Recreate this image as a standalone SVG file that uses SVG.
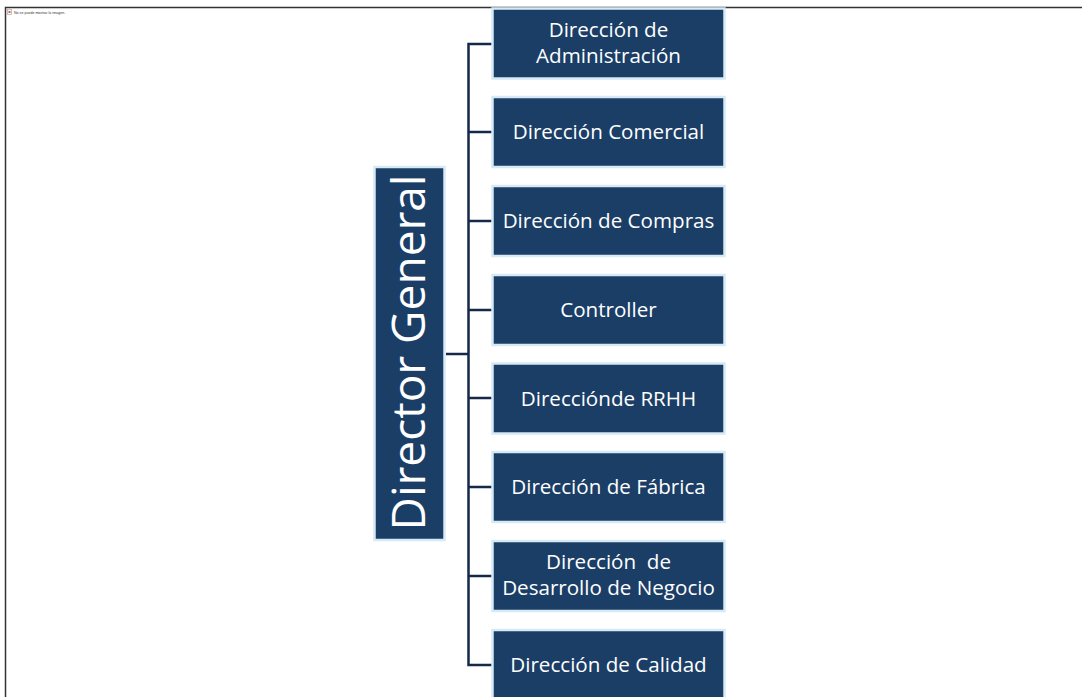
<svg xmlns="http://www.w3.org/2000/svg" width="1083" height="697" viewBox="0 0 1083 697">
<style>
.box{fill:#1b3e67;stroke:#d6eaf5;stroke-width:2.5}
.t{fill:#ffffff;font-family:"Open Sans","Liberation Sans",sans-serif;font-size:20.6px;text-anchor:middle}
.c{fill:none;stroke:#15294a;stroke-width:2.5}
.frame{stroke:#333333;stroke-width:1.5;fill:none}
</style>
<rect width="1083" height="697" fill="#ffffff"/>
<path class="frame" d="M5.5,697 V7.5 H1082"/>
<g id="broken-image">
<rect x="7.5" y="9.5" width="4" height="5" fill="#ffffff" stroke="#999" stroke-width="0.6"/>
<rect x="8.5" y="11" width="2" height="2" fill="#e05050"/>
<text x="14" y="13.5" font-family="Liberation Sans, sans-serif" font-size="3.6" fill="#333">No se puede mostrar la imagen.</text>
</g>
<g id="connectors">
<path class="c" d="M446,354 H468.5"/>
<path class="c" d="M492,44 H468.5 V665 H492"/>
<path class="c" d="M468.5,132 H492 M468.5,221 H492 M468.5,310 H492 M468.5,398 H492 M468.5,487 H492 M468.5,576 H492"/>
</g>
<g id="director-general">
<rect class="box" x="374.5" y="167" width="70" height="373"/>
<text transform="translate(425,352.5) rotate(-90)" font-family="Open Sans, Liberation Sans, sans-serif" font-size="46" fill="#ffffff" text-anchor="middle" textLength="356" lengthAdjust="spacingAndGlyphs">Director General</text>
</g>
<g id="n1"><rect class="box" x="492.5" y="8.5" width="232" height="70"/><text class="t" x="608.5" y="37">Dirección de</text><text class="t" x="608.5" y="63">Administración</text></g>
<g id="n2"><rect class="box" x="492.5" y="97" width="232" height="70"/><text class="t" x="608.5" y="139">Dirección Comercial</text></g>
<g id="n3"><rect class="box" x="492.5" y="186" width="232" height="70"/><text class="t" x="608.5" y="228">Dirección de Compras</text></g>
<g id="n4"><rect class="box" x="492.5" y="275" width="232" height="70"/><text class="t" x="608.5" y="317">Controller</text></g>
<g id="n5"><rect class="box" x="492.5" y="363.5" width="232" height="70"/><text class="t" x="608.5" y="405.5">Direcciónde RRHH</text></g>
<g id="n6"><rect class="box" x="492.5" y="452" width="232" height="70"/><text class="t" x="608.5" y="494">Dirección de Fábrica</text></g>
<g id="n7"><rect class="box" x="492.5" y="541" width="232" height="70"/><text class="t" x="608.5" y="569" xml:space="preserve">Dirección  de</text><text class="t" x="608.5" y="595">Desarrollo de Negocio</text></g>
<g id="n8"><rect class="box" x="492.5" y="630" width="232" height="70"/><text class="t" x="608.5" y="672">Dirección de Calidad</text></g>
</svg>
